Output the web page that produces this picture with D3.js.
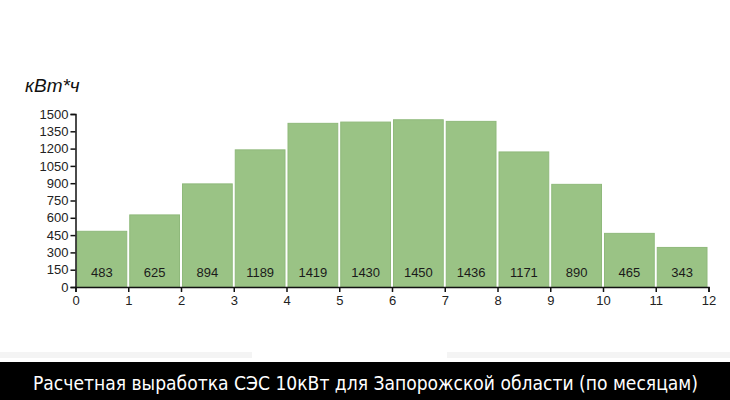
<!DOCTYPE html>
<html>
<head>
<meta charset="utf-8">
<script src="https://cdn.jsdelivr.net/npm/d3@7"></script>
<style>
	body { margin: 0; background: #fff; }
	#chart svg { display: block; }
</style>
</head>
<body>
<div id="chart"></div>
<script>
// Monthly output, kWh (bar labels)
var months = [0, 1, 2, 3, 4, 5, 6, 7, 8, 9, 10, 11];
var output = [483, 625, 894, 1189, 1419, 1430, 1450, 1436, 1171, 890, 465, 343];
var yTicks = [0, 150, 300, 450, 600, 750, 900, 1050, 1200, 1350, 1500];
var xTicks = [0, 1, 2, 3, 4, 5, 6, 7, 8, 9, 10, 11, 12];
var unitLabel = "кВт*ч";
var caption = "Расчетная выработка СЭС 10кВт для Запорожской области (по месяцам)";

var width = 730,
	height = 400;
var font = "'Liberation Sans', Arial, sans-serif";

var svg = d3
	.select("#chart")
	.append("svg")
	.attr("width", width)
	.attr("height", height);

var x = d3.scaleLinear().domain([0, 12]).range([75.5, 708.5]);
var y = d3.scaleLinear().domain([0, 1500]).range([287, 114]);

// Bars
svg
	.selectAll("rect.bar")
	.data(months)
	.enter()
	.append("rect")
	.attr("class", "bar")
	.attr("x", function (d) {
		return x(d) + 1.5;
	})
	.attr("width", function (d) {
		return x(d + 1) - x(d) - 3;
	})
	.attr("y", function (d, i) {
		return y(output[i]);
	})
	.attr("height", function (d, i) {
		return y(0) - y(output[i]);
	})
	.attr("fill", "#9ac385")
	.attr("stroke", "#8fb97b")
	.attr("stroke-width", 1);

// Value labels inside bars
svg
	.selectAll("text.val")
	.data(months)
	.enter()
	.append("text")
	.attr("class", "val")
	.attr("x", function (d) {
		return (x(d) + x(d + 1)) / 2;
	})
	.attr("y", y(0) - 10)
	.attr("text-anchor", "middle")
	.style("font-family", font)
	.style("font-size", "13px")
	.style("fill", "#1a1a1a")
	.text(function (d, i) {
		return output[i];
	});

// Y axis
svg
	.append("g")
	.attr("transform", "translate(" + x(0) + ",0)")
	.call(
		d3.axisLeft(y).tickValues(yTicks).tickFormat(d3.format("d")).tickSize(5).tickPadding(2)
	);

// X axis
svg
	.append("g")
	.attr("transform", "translate(0," + y(0) + ")")
	.call(d3.axisBottom(x).tickValues(xTicks).tickSize(5).tickPadding(4));

svg
	.selectAll(".tick text")
	.style("font-family", font)
	.style("font-size", "13px")
	.style("fill", "#222");
svg.selectAll(".domain, .tick line").attr("stroke", "#111").attr("stroke-width", 1.5);

// Unit label
svg
	.append("text")
	.attr("x", 25)
	.attr("y", 92)
	.style("font-family", font)
	.style("font-size", "19px")
	.style("font-style", "italic")
	.style("fill", "#111")
	.text(unitLabel);

// Faint strip above caption
svg.append("rect").attr("x", 0).attr("y", 352).attr("width", 252).attr("height", 6).attr("fill", "#f4f4f4");
svg.append("rect").attr("x", 447).attr("y", 352).attr("width", 283).attr("height", 6).attr("fill", "#f4f4f4");

// Caption band
svg
	.append("rect")
	.attr("x", 0)
	.attr("y", 362)
	.attr("width", width)
	.attr("height", height - 362)
	.attr("fill", "#000");

svg
	.append("text")
	.attr("x", 365.5)
	.attr("y", 390)
	.attr("text-anchor", "middle")
	.attr("textLength", 665)
	.attr("lengthAdjust", "spacingAndGlyphs")
	.style("font-family", "'Liberation Sans Narrow', 'DejaVu Sans Condensed', 'Open Sans', sans-serif")
	.style("font-size", "20px")
	.style("fill", "#fff")
	.text(caption);
</script>
</body>
</html>
